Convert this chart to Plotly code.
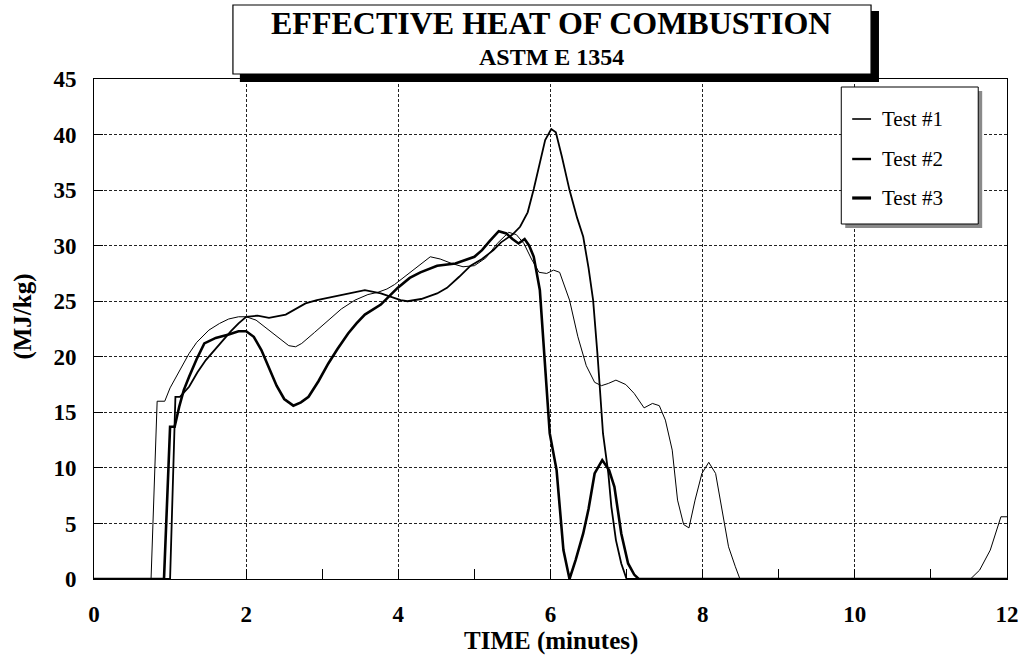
import plotly.graph_objects as go

# ---------------- data ----------------
t1 = [0, 0.75, 0.83, 0.93, 1.0, 1.08, 1.17, 1.25, 1.35, 1.51, 1.65, 1.77, 1.9, 2.0, 2.13, 2.26,
      2.4, 2.56, 2.65, 2.73, 2.9, 3.08, 3.25, 3.43, 3.6, 3.73, 3.85, 3.95, 4.1, 4.29, 4.42, 4.55,
      4.7, 4.85, 5.0, 5.15, 5.3, 5.45, 5.55, 5.65, 5.75, 5.85, 5.95, 6.04, 6.12, 6.25, 6.36, 6.47,
      6.58, 6.67, 6.76, 6.86, 6.99, 7.1, 7.23, 7.34, 7.43, 7.51, 7.6, 7.67, 7.75, 7.82, 7.9, 7.99,
      8.08, 8.17, 8.25, 8.34, 8.43, 8.49, 11.52, 11.64, 11.78, 11.92, 12.0]
test1 = [0, 0, 16.0, 16.0, 17.2, 18.2, 19.3, 20.3, 21.3, 22.4, 23.0, 23.4, 23.6, 23.6, 23.3, 22.6,
         21.8, 21.0, 20.9, 21.2, 22.2, 23.3, 24.3, 25.1, 25.6, 25.8, 26.1, 26.5, 27.3, 28.3, 29.0, 28.8,
         28.4, 28.1, 28.2, 28.9, 30.2, 31.2, 31.0, 30.2, 28.8, 27.6, 27.5, 27.8, 27.6, 25.1, 21.8, 19.2,
         17.7, 17.4, 17.6, 17.9, 17.5, 16.7, 15.4, 15.8, 15.6, 14.3, 11.6, 7.1, 4.9, 4.6, 7.1, 9.5,
         10.5, 9.5, 6.5, 2.9, 1.1, 0, 0, 0.8, 2.6, 5.6, 5.6]

t2 = [0, 1.0, 1.07, 1.13, 1.25, 1.36, 1.47, 1.58, 1.69, 1.8, 1.9, 2.0, 2.15, 2.3, 2.52, 2.65,
      2.78, 2.93, 3.08, 3.3, 3.56, 3.77, 3.9, 4.03, 4.12, 4.3, 4.51, 4.64, 4.8, 4.95, 5.1, 5.25,
      5.35, 5.5, 5.6, 5.7, 5.78, 5.86, 5.93, 6.01, 6.07, 6.15, 6.25, 6.35, 6.43, 6.5, 6.56, 6.62,
      6.69, 6.76, 6.8, 6.86, 6.93, 7.0, 12.0]
test2 = [0, 0, 16.4, 16.4, 17.3, 18.6, 19.7, 20.6, 21.5, 22.3, 23.0, 23.6, 23.7, 23.5, 23.8, 24.3,
         24.8, 25.1, 25.3, 25.6, 26.0, 25.7, 25.4, 25.1, 25.0, 25.2, 25.7, 26.2, 27.2, 28.2, 28.8, 29.6,
         30.3, 31.0, 31.7, 33.0, 35.1, 37.5, 39.5, 40.5, 40.2, 38.0, 35.0, 32.5, 30.8, 28.0, 25.1, 20.0,
         13.1, 9.5, 6.5, 3.5, 1.4, 0, 0]

t3 = [0, 0.92, 1.0, 1.06, 1.12, 1.18, 1.25, 1.35, 1.45, 1.6, 1.77, 1.9, 2.0, 2.1, 2.2, 2.3,
      2.4, 2.5, 2.62, 2.72, 2.82, 2.95, 3.08, 3.2, 3.34, 3.45, 3.56, 3.77, 3.99, 4.15, 4.29, 4.51,
      4.75, 5.0, 5.1, 5.2, 5.32, 5.42, 5.5, 5.58, 5.66, 5.72, 5.78, 5.86, 5.9, 5.95, 5.99, 6.08,
      6.17, 6.25, 6.33, 6.43, 6.5, 6.58, 6.68, 6.77, 6.84, 6.93, 7.02, 7.1, 7.16, 12.0]
test3 = [0, 0, 13.7, 13.7, 15.5, 17.0, 18.2, 19.8, 21.2, 21.7, 22.0, 22.3, 22.3, 21.8, 20.6, 19.0,
         17.4, 16.2, 15.6, 15.9, 16.4, 17.8, 19.4, 20.7, 22.1, 23.0, 23.8, 24.7, 26.2, 27.1, 27.6, 28.2,
         28.4, 29.0, 29.6, 30.4, 31.3, 31.1, 30.6, 30.2, 30.6, 30.0, 29.0, 26.0, 22.0, 17.6, 13.1, 9.8,
         2.6, 0, 1.7, 4.1, 6.3, 9.5, 10.7, 9.8, 8.3, 4.1, 1.4, 0.4, 0, 0]

series_names = ["Test #1", "Test #2", "Test #3"]
series_widths = [1.0, 1.8, 2.6]

x_ticks = [0, 2, 4, 6, 8, 10, 12]
y_ticks = [0, 5, 10, 15, 20, 25, 30, 35, 40, 45]

title_text = "EFFECTIVE HEAT OF COMBUSTION"
subtitle_text = "ASTM E 1354"
x_title = "TIME (minutes)"
y_title = "(MJ/kg)"

# ---------------- figure ----------------
W, H = 1031, 664
PL, PR, PT, PB = 94, 1014, 79, 579          # plot area in pixels
PW, PH = PR - PL, PB - PT
ML, MT, MR, MB = PL, PT, W - PR, H - PB

def px(xp):  # pixel x -> paper
    return (xp - PL) / PW

def py(yp):  # pixel y -> paper
    return (PB - yp) / PH

SERIF = "Liberation Serif"

fig = go.Figure()
for xs, ys, name, w in zip([t1, t2, t3], [test1, test2, test3], series_names, series_widths):
    fig.add_trace(go.Scatter(x=xs, y=ys, mode="lines", name=name,
                             line=dict(color="black", width=w), showlegend=False))

axis_common = dict(showline=True, linecolor="black", linewidth=1, mirror=True,
                   showgrid=True, gridcolor="#222222", gridwidth=1, griddash="3px,2px",
                   zeroline=False, ticks="inside", tickcolor="black", ticklen=9,
                   tickfont=dict(family=SERIF, size=23, color="black", weight="bold"))

fig.update_xaxes(range=[0, 12], tickvals=x_ticks, ticktext=[str(v) for v in x_ticks],
                 ticklabelstandoff=14,
                 minor=dict(dtick=1, ticks="inside", ticklen=10, tickcolor="black", showgrid=False),
                 **axis_common)
fig.update_yaxes(range=[0, 45], tickvals=y_ticks, ticktext=[str(v) for v in y_ticks],
                 ticklabelstandoff=12, **axis_common)

shapes = []
# title box with black drop shadow
shapes.append(dict(type="rect", xref="paper", yref="paper", layer="above",
                   x0=px(241), x1=px(885), y0=py(82), y1=py(11),
                   fillcolor="black", line=dict(width=0)))
shapes.append(dict(type="rect", xref="paper", yref="paper", layer="above",
                   x0=px(234), x1=px(877), y0=py(74), y1=py(5),
                   fillcolor="white", line=dict(color="black", width=1.2)))
# legend box with grey shadow
shapes.append(dict(type="rect", xref="paper", yref="paper", layer="above",
                   x0=px(851), x1=px(989), y0=py(228), y1=py(91),
                   fillcolor="#8a8a8a", line=dict(width=0)))
shapes.append(dict(type="rect", xref="paper", yref="paper", layer="above",
                   x0=px(847), x1=px(985), y0=py(224), y1=py(87),
                   fillcolor="white", line=dict(color="black", width=1)))
leg_y = [119, 159, 198]
annotations = []
for yy, name, w in zip(leg_y, series_names, series_widths):
    shapes.append(dict(type="line", xref="paper", yref="paper", layer="above",
                       x0=px(858), x1=px(877), y0=py(yy), y1=py(yy),
                       line=dict(color="black", width=w + 0.6)))
    annotations.append(dict(text=name, xref="paper", yref="paper", x=px(886), y=py(yy),
                            xanchor="left", yanchor="middle", showarrow=False,
                            font=dict(family=SERIF, size=21, color="black")))

annotations += [
    dict(text=title_text, xref="paper", yref="paper", x=px(555), y=py(23),
         xanchor="center", yanchor="middle", showarrow=False,
         font=dict(family=SERIF, size=32, color="black", weight="bold")),
    dict(text=subtitle_text, xref="paper", yref="paper", x=px(555), y=py(57),
         xanchor="center", yanchor="middle", showarrow=False,
         font=dict(family=SERIF, size=24, color="black", weight="bold")),
    dict(text=x_title, xref="paper", yref="paper", x=px(554), y=py(641),
         xanchor="center", yanchor="middle", showarrow=False,
         font=dict(family=SERIF, size=25, color="black", weight="bold")),
    dict(text=y_title, xref="paper", yref="paper", x=px(22), y=py(317),
         xanchor="center", yanchor="middle", showarrow=False, textangle=-90,
         font=dict(family=SERIF, size=25, color="black", weight="bold")),
]

fig.update_layout(width=W, height=H, margin=dict(l=ML, r=MR, t=MT, b=MB),
                  paper_bgcolor="white", plot_bgcolor="white",
                  shapes=shapes, annotations=annotations, showlegend=False)

# remove the browser's default 8px body margin so the figure fills the window
fig.write_html("out.html", config={"displayModeBar": False, "staticPlot": True},
               post_script="document.body.style.margin='0px';document.body.style.overflow='hidden';")
